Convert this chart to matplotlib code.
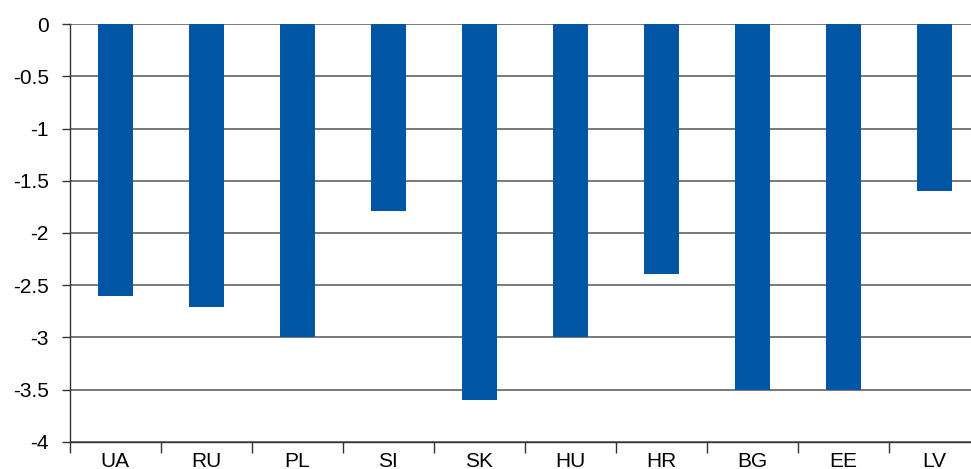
import numpy as np
import matplotlib.pyplot as plt

plt.rcParams['font.family'] = ['Liberation Sans', 'DejaVu Sans']

countries = ['UA', 'RU', 'PL', 'SI', 'SK', 'HU', 'HR', 'BG', 'EE', 'LV']
values = [-2.6, -2.71, -3.0, -1.79, -3.6, -3.0, -2.39, -3.5, -3.5, -1.6]
yticks = [0, -0.5, -1, -1.5, -2, -2.5, -3, -3.5, -4]
ytick_labels = ['0', '-0.5', '-1', '-1.5', '-2', '-2.5', '-3', '-3.5', '-4']


def main():
    fig = plt.figure(figsize=(9.71, 4.69), dpi=100)
    # plot area runs slightly past the right edge of the picture
    ax = fig.add_axes([0.0716, 0.0576, 0.9372, 0.8912])

    x = np.arange(len(countries))
    ax.bar(x, values, width=0.385, color='#0055A4', zorder=3)

    ax.set_xlim(-0.5, len(countries) - 0.5)
    ax.set_ylim(-4, 0)
    ax.set_yticks(yticks)
    ax.set_yticklabels(ytick_labels)
    ax.yaxis.grid(True, color='#555555', linewidth=1.1, zorder=0)
    ax.tick_params(axis='y', length=6, width=1, color='#333333', labelsize=15, pad=9)

    # category labels at centres, tick marks at boundaries
    ax.set_xticks(x)
    ax.set_xticklabels(countries)
    ax.set_xticks(np.arange(len(countries)) - 0.5, minor=True)
    ax.tick_params(axis='x', which='major', length=0, labelsize=15, pad=7)
    ax.tick_params(axis='x', which='minor', length=8, width=1, color='#333333')

    for s in ['top', 'right']:
        ax.spines[s].set_visible(False)
    for s in ['left', 'bottom']:
        ax.spines[s].set_color('#333333')
        ax.spines[s].set_linewidth(1)

    fig.savefig('out.png', dpi=100)


if __name__ == "__main__":
    main()
